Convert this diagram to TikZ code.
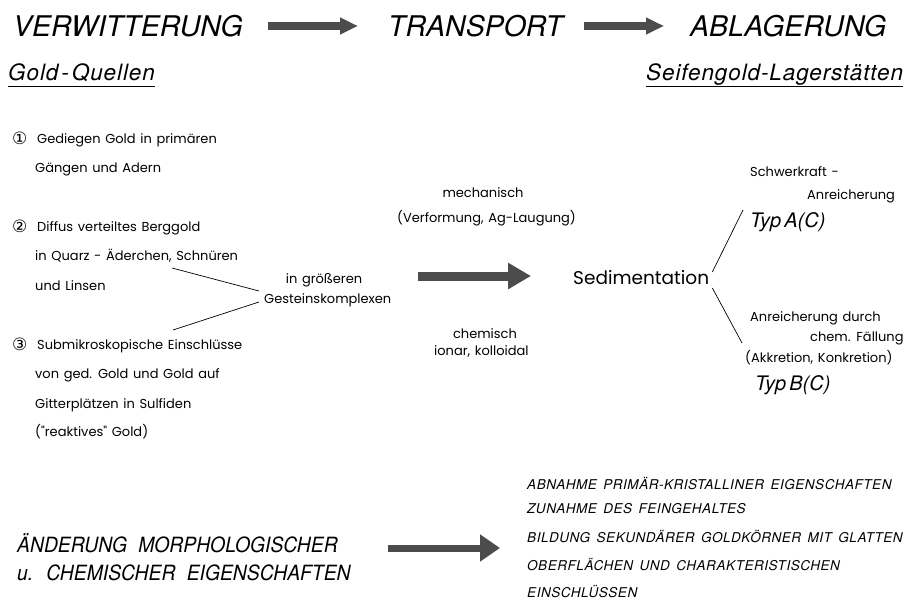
\documentclass[tikz,border=0pt]{standalone}
\usepackage{fontspec}
\setmainfont{Poppins}
\newfontfamily\bodyfont{Poppins}[WordSpace=1.35]
\newfontfamily\hdfont{TeX Gyre Heros}
\newfontfamily\subfont{texgyreheros-italic.otf}[LetterSpace=4]
\newfontfamily\capsfont{texgyreheros-italic.otf}[FakeStretch=0.92, WordSpace=2.1]
\newfontfamily\effectfont{texgyreheros-italic.otf}[LetterSpace=4, WordSpace=1.5]
\newfontfamily\symfont{DejaVu Sans}
\usetikzlibrary{arrows.meta}

\definecolor{arrowgray}{gray}{0.3}

\tikzset{
  txt/.style={anchor=base west, inner sep=0pt},
  body/.style={txt, font=\bodyfont\fontsize{13}{15}\selectfont},
  bodyc/.style={body, anchor=base},
  title/.style={txt, font=\hdfont\itshape\fontsize{28.5}{30}\selectfont},
  subhead/.style={txt, font=\subfont\fontsize{22.5}{24}\selectfont},
  typlabel/.style={txt, font=\hdfont\itshape\fontsize{20}{22}\selectfont},
  change/.style={txt, font=\capsfont\fontsize{21}{24}\selectfont},
  effect/.style={txt, font=\effectfont\fontsize{13.5}{15}\selectfont},
  num/.style={txt, font=\symfont\fontsize{17}{18}\selectfont},
  thinline/.style={draw, line width=0.7pt},
  toparrow/.style={draw=arrowgray, line width=8pt, -{Triangle[length=18pt,width=16pt]}, arrowgray},
  midarrow/.style={draw=arrowgray, line width=9pt, -{Triangle[length=23pt,width=25pt]}, arrowgray},
  lowarrow/.style={draw=arrowgray, line width=7pt, -{Triangle[length=20pt,width=26pt]}, arrowgray},
}

\begin{document}
\begin{tikzpicture}[x=1pt,y=-1pt]
\useasboundingbox (0,0) rectangle (913,610);

% process chain
\node[title] (verw) at (13,37) {VERWITTERUNG};
\node[title] (trans) at (388,37) {TRANSPORT};
\node[title] (ablag) at (690,37) {ABLAGERUNG};
\coordinate (a1s) at (268,26);
\coordinate (a1e) at (358,26);
\coordinate (a2s) at (584,26);
\coordinate (a2e) at (664,26);
\draw[toparrow] (a1s) -- (a1e);
\draw[toparrow] (a2s) -- (a2e);

% underlined sub-headings
\node[subhead] (quellen) at (8,81) {Gold\hspace{3pt}-\hspace{3pt}Quellen};
\node[subhead] (seifen) at (646,81) {Seifengold-Lagerstätten};
\draw[thinline] ([yshift=-5pt]quellen.base west) -- ([yshift=-5pt]quellen.base east);
\draw[thinline] ([yshift=-5pt]seifen.base west) -- ([yshift=-5pt]seifen.base east);

% gold sources
\node[num] (n1) at (12,144) {①};
\node[body] (s1a) at (37,143) {Gediegen Gold in primären};
\node[body] (s1b) at (35,172) {Gängen und Adern};
\node[num] (n2) at (12,232) {②};
\node[body] (s2a) at (37,231) {Diffus verteiltes Berggold};
\node[body] (s2b) at (35,260) {in Quarz - Äderchen, Schnüren};
\node[body] (s2c) at (35,290) {und Linsen};
\node[num] (n3) at (12,350) {③};
\node[body] (s3a) at (37,349) {Submikroskopische Einschlüsse};
\node[body] (s3b) at (35,378) {von ged. Gold und Gold auf};
\node[body] (s3c) at (35,408) {Gitterplätzen in Sulfiden};
\node[body] (s3d) at (35,436) {("reaktives" Gold)};

\node[bodyc] (groes) at (324,283) {in größeren};
\node[body] (gest) at (264,303) {Gesteinskomplexen};
\coordinate (l2s) at (172,268);
\coordinate (l3s) at (173,330);
\draw[thinline] (l2s) -- ([shift={(-5,-12)}]gest.base west);
\draw[thinline] (l3s) -- ([shift={(-5,-1)}]gest.base west);

% transport
\node[bodyc] (mech) at (483,197) {mechanisch};
\node[body] (verf) at (397,222) {(Verformung, Ag-Laugung)};
\coordinate (a3s) at (418,276);
\coordinate (a3e) at (531,276);
\draw[midarrow] (a3s) -- (a3e);
\node[bodyc] (chem) at (485,338) {chemisch};
\node[body] (ionar) at (434,355) {ionar, kolloidal};

% deposition
\node[txt, font=\bodyfont\fontsize{18.5}{22}\selectfont] (sed) at (573,284) {Sedimentation};
\coordinate (ta) at (743,210);
\coordinate (tb) at (742,343);
\draw[thinline] ([shift={(3,-12)}]sed.base east) -- (ta);
\draw[thinline] ([shift={(3,4)}]sed.base east) -- (tb);

\node[body] (schw) at (750,176) {Schwerkraft -};
\node[body] (anr1) at (807,199) {Anreicherung};
\node[typlabel] (typa) at (750,227) {Typ\hspace{3pt}A(C)};
\node[body] (anr2) at (750,321) {Anreicherung durch};
\node[body] (faell) at (810,341) {chem. Fällung};
\node[body] (akk) at (745,362) {(Akkretion, Konkretion)};
\node[typlabel] (typb) at (755,390) {Typ\hspace{3pt}B(C)};

% changes during transport
\node[change] (aend) at (17,552) {ÄNDERUNG MORPHOLOGISCHER};
\node[change] (chemeig) at (17,580) {u. CHEMISCHER EIGENSCHAFTEN};
\coordinate (a4s) at (388,548);
\coordinate (a4e) at (500,548);
\draw[lowarrow] (a4s) -- (a4e);

\node[effect] (e1) at (527,489) {ABNAHME PRIMÄR-KRISTALLINER EIGENSCHAFTEN};
\node[effect] (e2) at (527,513) {ZUNAHME DES FEINGEHALTES};
\node[effect] (e3) at (527,542) {BILDUNG SEKUNDÄRER GOLDKÖRNER MIT GLATTEN};
\node[effect] (e4) at (527,570) {OBERFLÄCHEN UND CHARAKTERISTISCHEN};
\node[effect] (e5) at (527,597) {EINSCHLÜSSEN};
\end{tikzpicture}
\end{document}
